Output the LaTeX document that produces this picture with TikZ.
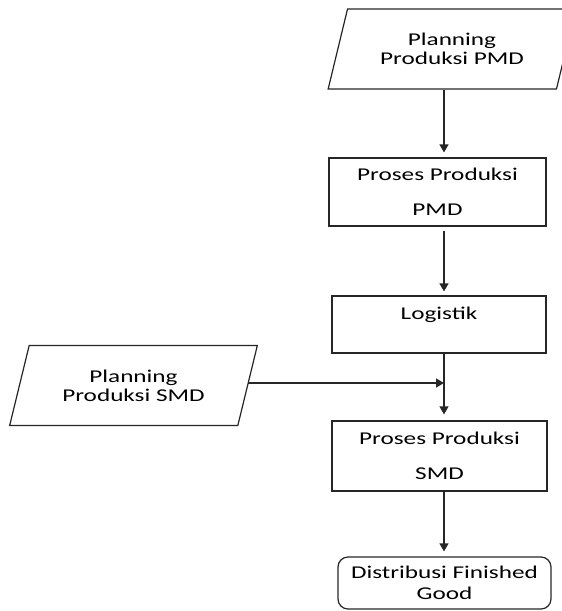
\documentclass[tikz,border=0pt]{standalone}
\usepackage{fontspec}
\setmainfont{Carlito}[FakeStretch=1.4]
\usetikzlibrary{shapes.geometric,arrows.meta}
\begin{document}
\begin{tikzpicture}[x=1pt,y=-1pt,
  every node/.style={font=\fontsize{18}{19}\selectfont, text=black, align=center, draw=black!85, line width=1.2pt},
  box/.style={rectangle, minimum width=217pt, minimum height=68pt},
  plan/.style={trapezium, trapezium left angle=70, trapezium right angle=110, trapezium stretches=true, minimum width=248pt, minimum height=80pt},
  term/.style={rectangle, rounded corners=10pt, minimum width=213pt, minimum height=52pt},
  flow/.style={-{Triangle[length=8pt,width=9pt]}, line width=1.2pt, draw=black!85}]
\useasboundingbox (0,0) rectangle (562,611);

\node [plan] (0) at (452, 49) {Planning\\Produksi PMD};
\node [box] (1) at (437.5, 192) {Proses Produksi\\[16pt]PMD};
\node [box, minimum height=57pt, minimum width=214pt] (2) at (439, 324.5) {Logistik\\[3pt]\mbox{}};
\node [plan] (3) at (133.5, 385.5) {Planning\\Produksi SMD};
\node [box, minimum height=70pt, minimum width=215pt] (4) at (439.5, 456) {Proses Produksi\\[16pt]SMD};
\node [term] (5) at (444.5, 583) {Distribusi Finished\\[2pt]Good};
\coordinate (6) at (444, 383);

\draw [flow, shorten >=5pt] (0.south -| 6) -- (1.north -| 6);
\draw [flow, shorten <=4pt, shorten >=4pt] (1.south -| 6) -- (2.north -| 6);
\draw [flow, shorten >=6pt] (2.south -| 6) -- (4.north -| 6);
\draw [flow] (3.east |- 6) -- (6);
\draw [flow, shorten >=5pt] (4.south -| 6) -- (5.north -| 6);
\end{tikzpicture}
\end{document}
